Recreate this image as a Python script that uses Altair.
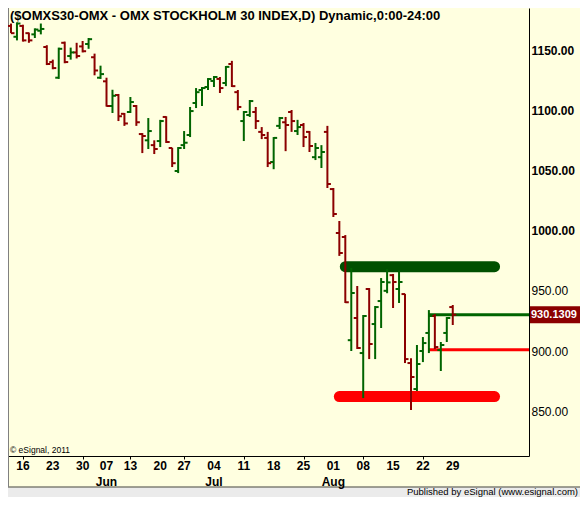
import altair as alt
import pandas as pd

# ---------------- data ----------------
dates = [
    "2011-05-12", "2011-05-13", "2011-05-16", "2011-05-17", "2011-05-18", "2011-05-19", "2011-05-20",
    "2011-05-23", "2011-05-24", "2011-05-25", "2011-05-26", "2011-05-27", "2011-05-30", "2011-05-31",
    "2011-06-01", "2011-06-03", "2011-06-07", "2011-06-08", "2011-06-09", "2011-06-10", "2011-06-13",
    "2011-06-14", "2011-06-15", "2011-06-16", "2011-06-17", "2011-06-20", "2011-06-21", "2011-06-22",
    "2011-06-23", "2011-06-27", "2011-06-28", "2011-06-29", "2011-06-30", "2011-07-01", "2011-07-04",
    "2011-07-05", "2011-07-06", "2011-07-07", "2011-07-08", "2011-07-11", "2011-07-12", "2011-07-13",
    "2011-07-14", "2011-07-15", "2011-07-18", "2011-07-19", "2011-07-20", "2011-07-21", "2011-07-22",
    "2011-07-25", "2011-07-26", "2011-07-27", "2011-07-28", "2011-07-29", "2011-08-01", "2011-08-02",
    "2011-08-03", "2011-08-04", "2011-08-05", "2011-08-08", "2011-08-09", "2011-08-10", "2011-08-11",
    "2011-08-12", "2011-08-15", "2011-08-16", "2011-08-17", "2011-08-18", "2011-08-19", "2011-08-22",
    "2011-08-23", "2011-08-24", "2011-08-25", "2011-08-26", "2011-08-29",
]
opens = [
    1170, 1161, 1170, 1164, 1163, 1166, 1152.5, 1140, 1127, 1156, 1145, 1148, 1153, 1155, 1144, 1127,
    1124, 1103.5, 1112.6, 1097, 1098.5, 1103.5, 1080.2, 1075, 1071, 1074.4, 1094.4, 1068.6, 1049.5,
    1071, 1079.4, 1106, 1116.8, 1119.3, 1124.3, 1126, 1122.6, 1138.4, 1115, 1091, 1096, 1098.5, 1082,
    1077, 1057, 1087, 1090, 1098.5, 1082.7, 1087.7, 1082, 1061, 1061, 1082, 1034.5, 998, 994.7, 909,
    927.4, 898.3, 951.5, 922.4, 941.5, 950, 963, 951.5, 947.3, 890, 868.4, 900, 915, 929.1, 900.8,
    915, 936.5,
]
highs = [
    1172, 1173, 1171, 1164.5, 1168, 1172, 1154, 1142, 1152, 1157, 1152, 1156, 1157.5, 1160, 1147, 1137,
    1127, 1117, 1113.5, 1097.7, 1111, 1104.3, 1081, 1093.5, 1075, 1092, 1095, 1068.8, 1069.4, 1082.7,
    1102.7, 1118.4, 1119.3, 1126.7, 1128.4, 1127.6, 1136.7, 1141, 1116.8, 1099.3, 1108.5, 1102.7, 1086,
    1082, 1077.7, 1094.4, 1094.4, 1100.2, 1092, 1089.4, 1082.7, 1072.8, 1071, 1087, 1035.4, 1008, 996.3,
    969, 954, 929.9, 952.3, 937.4, 960.6, 968, 964, 967, 947.5, 894, 905, 911.6, 934, 930.7, 907.5,
    928.2, 938.2,
]
lows = [
    1164, 1158, 1157, 1156, 1160, 1163, 1137.5, 1134, 1126, 1139, 1142, 1143, 1148, 1151, 1129, 1126,
    1103, 1097.7, 1091, 1087, 1097.7, 1087, 1064.4, 1067.8, 1063.6, 1069.4, 1072.8, 1052.8, 1047.8,
    1067.8, 1077.7, 1101.8, 1103.5, 1116.8, 1119.3, 1114.3, 1120, 1119.3, 1100, 1074.4, 1094.4, 1084.4,
    1076, 1052.8, 1051, 1084.4, 1066, 1082, 1079.4, 1069.4, 1065.3, 1058.6, 1052, 1035.4, 1011.3, 979,
    939.9, 900, 901.7, 860.9, 893.3, 893.3, 919.1, 948, 935.7, 939.9, 890, 851, 866.8, 890.8, 898.3,
    901.7, 883.4, 907.5, 921.6,
]
closes = [
    1164, 1172, 1158, 1158, 1167, 1167.5, 1138.4, 1135, 1151, 1140, 1148, 1145, 1149, 1159, 1133, 1130,
    1103.5, 1112, 1095, 1089, 1106.8, 1090, 1078.6, 1082.7, 1067.8, 1091, 1073.6, 1056, 1068.6, 1073,
    1099.3, 1115, 1118.4, 1125.9, 1127.6, 1118.4, 1136, 1120, 1102.7, 1098.5, 1107.6, 1091, 1079.4,
    1056, 1077, 1093.5, 1087.7, 1091, 1086, 1077.7, 1070.3, 1068.6, 1065.3, 1038.7, 1013.8, 981.4,
    940.5, 948.2, 902.5, 929.1, 905.8, 936.5, 957.3, 957, 957.3, 957.3, 893.3, 878.4, 889.2, 906.6,
    929.1, 903.3, 905, 927.4, 930.1309,
]

# horizontal levels drawn on the chart (bar index where they start / end)
band_names = ["resistance", "support"]
band_prices = [970, 862.2]
band_start = [56, 55]
band_end = [81, 81]

line_names = ["last", "pivot"]
line_prices = [930.1309, 901]
line_start = [70, 70]

y_ticks = [850, 900, 950, 1000, 1050, 1100, 1150]
month_names = ["Jun", "Jul", "Aug"]

title_text = "($OMXS30-OMX - OMX STOCKHOLM 30 INDEX,D) Dynamic,0:00-24:00"
copyright_text = "\u00a9 eSignal, 2011"
footer_text = "Published by eSignal (www.esignal.com)"

# ---------------- layout / style ----------------
TOTAL_W, TOTAL_H = 572, 489
W, H = 521, 448
X_MIN, X_MAX = -0.5, 86.77
Y_MIN, Y_MAX = 812.8, 1184.9
GREEN = "#006400"
RED = "#8B0000"
BAND_GREEN = "#005000"
BRIGHT_RED = "#FF0000"
BG = "#FFFFE0"
FONT = "Liberation Sans"

df = pd.DataFrame({"i": range(len(dates)), "date": dates, "open": opens,
                   "high": highs, "low": lows, "close": closes})
d = pd.to_datetime(df["date"])
tick_idx = [i for i in range(1, len(d)) if d[i].weekday() < d[i - 1].weekday()]
tick_lab = [d[i].strftime("%d") for i in tick_idx]
month_idx = [next(i for i in tick_idx if d[i].strftime("%b") == m) for m in month_names]
weeks_df = pd.DataFrame({"i": tick_idx, "lab": tick_lab})
months_df = pd.DataFrame({"i": month_idx, "m": month_names})

xs = alt.Scale(domain=[X_MIN, X_MAX], nice=False, zero=False)
ys = alt.Scale(domain=[Y_MIN, Y_MAX], nice=False, zero=False)

one = pd.DataFrame({"a": [0]})
footer_bg = alt.Chart(one).mark_rect(color="#EBEBEB").encode(
    x=alt.value(0), x2=alt.value(TOTAL_W), y=alt.value(479.5), y2=alt.value(TOTAL_H))
frame_bottom = alt.Chart(one).mark_rule(color="#404040", strokeWidth=1).encode(
    x=alt.value(0), x2=alt.value(TOTAL_W), y=alt.value(479))
frame_left = alt.Chart(one).mark_rule(color="#808080", strokeWidth=2).encode(
    x=alt.value(0), y=alt.value(0), y2=alt.value(479))

base = alt.Chart(df).transform_calculate(dir="datum.close >= datum.open ? 'up' : 'down'")
color = alt.Color("dir:N", scale=alt.Scale(domain=["up", "down"], range=[GREEN, RED]), legend=None)

hl = base.mark_rule(strokeWidth=2).encode(
    x=alt.X("i:Q", scale=xs, axis=alt.Axis(
        values=tick_idx, labels=False, title=None, grid=False, tickSize=3,
        tickColor="black", domainColor="black")),
    y=alt.Y("low:Q", scale=ys, axis=alt.Axis(
        orient="right", values=y_ticks, format=".2f", title=None, grid=False, ticks=False,
        domainColor="black", labelColor="black", labelFont=FONT, labelFontSize=12,
        labelFontWeight={"condition": {"test": "datum.value >= 1000", "value": "bold"}, "value": "normal"},
        labelAlign="left", labelBaseline="middle", labelPadding=2, labelFlush=False,
        labelOverlap=False)),
    y2="high:Q",
    color=color,
)
op = base.mark_rule(strokeWidth=2, xOffset=-3.5, x2Offset=0).encode(
    x="i:Q", x2="i:Q", y="open:Q", color=color)
cl = base.mark_rule(strokeWidth=2, xOffset=0, x2Offset=3.5).encode(
    x="i:Q", x2="i:Q", y="close:Q", color=color)

bands_df = pd.DataFrame({"name": band_names, "price": band_prices, "s": band_start, "e": band_end})
bands = alt.Chart(bands_df).mark_rule(strokeWidth=11, strokeCap="round").encode(
    x="s:Q", x2="e:Q", y="price:Q",
    color=alt.Color("name:N", scale=alt.Scale(domain=band_names, range=[BAND_GREEN, BRIGHT_RED]),
                    legend=None))

lines_df = pd.DataFrame({"name": line_names, "price": line_prices, "s": line_start})
lines = alt.Chart(lines_df).transform_calculate(e=str(X_MAX)).mark_rule(strokeWidth=3).encode(
    x="s:Q", x2="e:Q", y="price:Q",
    color=alt.Color("name:N", scale=alt.Scale(domain=line_names, range=[GREEN, BRIGHT_RED]),
                    legend=None))

last_df = df.tail(1)
price_box = alt.Chart(last_df).mark_rule(strokeWidth=17, color=RED).encode(
    x=alt.value(522), x2=alt.value(TOTAL_W), y="close:Q")
price_txt = alt.Chart(last_df).mark_text(
    align="left", baseline="middle", font=FONT, fontSize=11, fontWeight="bold", color="white"
).encode(x=alt.value(523), y="close:Q", text=alt.Text("close:Q", format=".4f"))

weeks = alt.Chart(weeks_df).mark_text(
    align="center", baseline="middle", font=FONT, fontSize=12, fontWeight="bold", color="black"
).encode(x="i:Q", y=alt.value(458), text="lab:N")
months = alt.Chart(months_df).mark_text(
    align="center", baseline="middle", font=FONT, fontSize=12, fontWeight="bold", color="black"
).encode(x="i:Q", y=alt.value(474), text="m:N")

title = alt.Chart(one).mark_text(
    align="left", baseline="middle", font=FONT, fontSize=13, fontWeight="bold", color="black"
).encode(x=alt.value(2), y=alt.value(8), text=alt.value(title_text))
copy_txt = alt.Chart(one).mark_text(
    align="left", baseline="middle", font=FONT, fontSize=8.5, color="black"
).encode(x=alt.value(2), y=alt.value(442), text=alt.value(copyright_text))
footer = alt.Chart(one).mark_text(
    align="right", baseline="middle", font=FONT, fontSize=9.5, color="black"
).encode(x=alt.value(570), y=alt.value(484), text=alt.value(footer_text))

chart = alt.layer(
    footer_bg, frame_bottom, frame_left,
    bands, lines, hl, op, cl, price_box, price_txt, weeks, months,
    title, copy_txt, footer,
).resolve_scale(color="independent").properties(
    width=W, height=H,
    autosize=alt.AutoSizeParams(type="none"),
    padding={"left": 0, "top": 0, "right": TOTAL_W - W, "bottom": TOTAL_H - H},
    background=BG,
).configure_view(stroke=None)

chart.save("out.html", embed_options={"renderer": "svg", "actions": False})
